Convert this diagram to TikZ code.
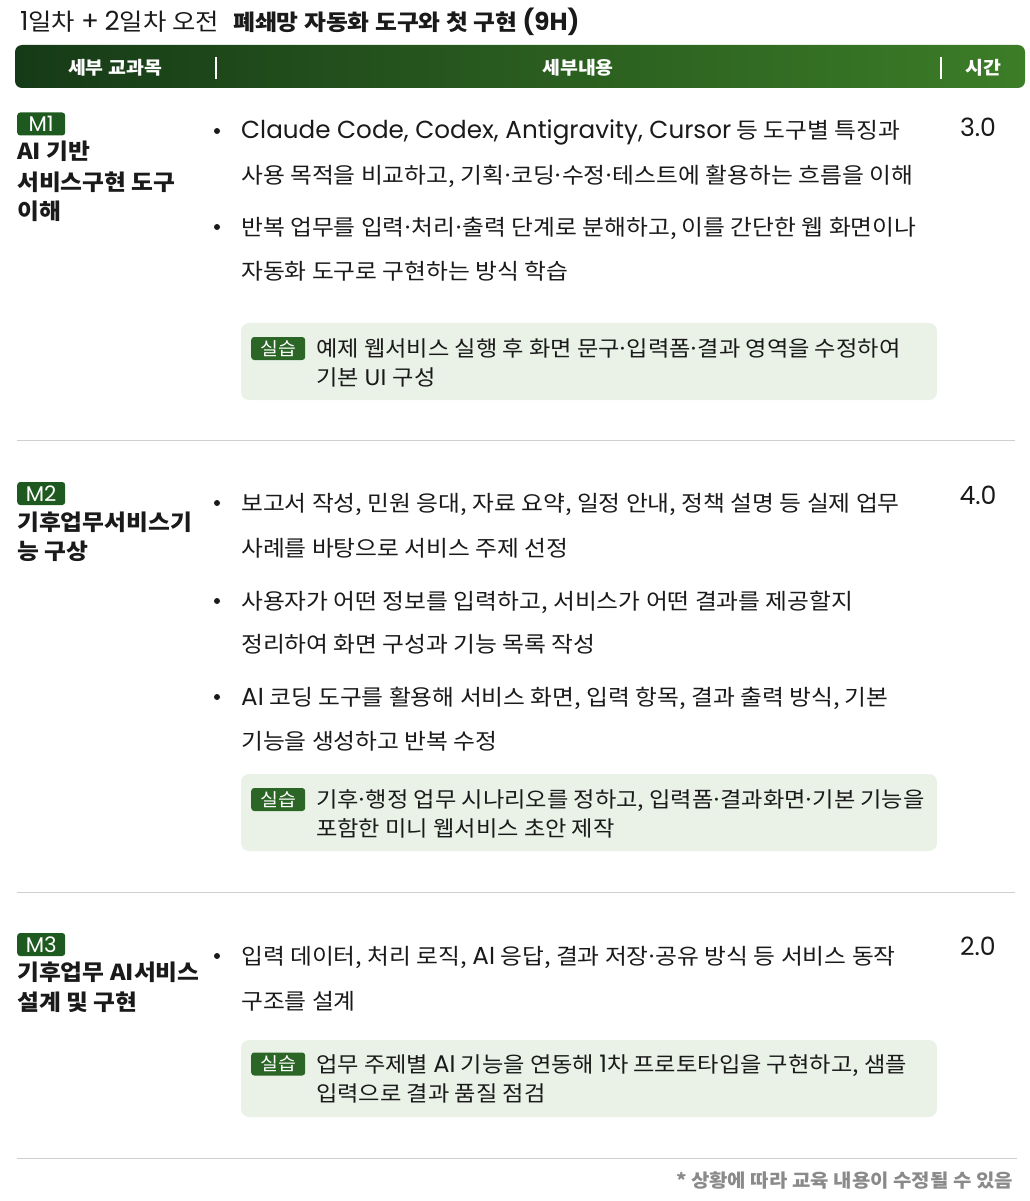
\documentclass[tikz,border=0pt]{standalone}
\usepackage{fontspec}
\setmainfont{Noto Sans CJK KR}[FakeStretch=1.08]
\newfontfamily\lat{Poppins}[Scale=1.12]
\newcommand\mdot{\hbox to 0.32em{\hss·\hss}}
\definecolor{txt}{HTML}{1A1A1A}
\definecolor{hdL}{HTML}{163A17}
\definecolor{hdR}{HTML}{3C7D27}
\definecolor{mbadge}{HTML}{1E5A1F}
\definecolor{pbadge}{HTML}{2B6626}
\definecolor{pbox}{HTML}{EAF2E8}
\definecolor{divc}{HTML}{CFCFCF}
\definecolor{notec}{HTML}{8A8A8A}
\tikzset{
  bodyline/.style={anchor=base west, inner sep=0, text=txt, font=\fontsize{22}{22}\selectfont},
  pracline/.style={anchor=base west, inner sep=0, text=txt, font=\fontsize{21.5}{21.5}\selectfont},
  modtitle/.style={anchor=base west, inner sep=0, text=txt, font=\fontsize{22}{22}\selectfont\bfseries},
  timetext/.style={anchor=base, inner sep=0, text=txt, font=\fontsize{22.5}{22.5}\selectfont\lat},
  hdtext/.style={anchor=center, inner sep=0, text=white, font=\fontsize{18}{18}\selectfont\bfseries},
  mbadgebox/.style={fill=mbadge, rounded corners=3pt, minimum width=48pt, minimum height=23pt, inner sep=0, text=white, font=\fontsize{19}{19}\selectfont\lat, anchor=west},
  pbadgebox/.style={fill=pbadge, rounded corners=3pt, minimum width=54pt, minimum height=23pt, inner sep=0, text=white, font=\fontsize{18}{18}\selectfont, anchor=west},
  practicebox/.style={fill=pbox, rounded corners=8pt, draw=none},
  bulletdot/.style={circle, fill=txt, inner sep=0, minimum size=6pt},
  divider/.style={draw=divc, line width=1pt},
  hdsep/.style={draw=white, line width=1.6pt}
}
\begin{document}
\begin{tikzpicture}[x=1pt,y=-1pt]
\useasboundingbox (0,0) rectangle (1029,1201);
% title
\node[anchor=base west, inner sep=0, text=txt, font=\fontsize{23.5}{23.5}\selectfont] (ttl1) at (20,31) {{\lat 1}일차 {\lat +} {\lat 2}일차 오전};
\node[anchor=base west, inner sep=0, text=txt, font=\fontsize{22}{22}\selectfont\bfseries] (ttl2) at (233,31) {폐쇄망 자동화 도구와 첫 구현 {\lat(9H)}};
% header bar
\shade[left color=hdL, right color=hdR, rounded corners=7pt] (15,45) rectangle (1025,88);
\node[hdtext] (h1) at (115,67.5) {세부 교과목};
\node[hdtext] (h2) at (578,67.5) {세부내용};
\node[hdtext] (h3) at (983,67.5) {시간};
\coordinate (s1a) at (216,57); \coordinate (s1b) at (216,79);
\coordinate (s2a) at (941,57); \coordinate (s2b) at (941,79);
\draw[hdsep] (s1a) -- (s1b);
\draw[hdsep] (s2a) -- (s2b);

% ===== M1 =====
\node[mbadgebox] (m1) at (17,124) {M1};
\node[modtitle] (m1t1) at (17,160) {AI 기반};
\node[modtitle] (m1t2) at (17,190) {서비스구현 도구};
\node[modtitle] (m1t3) at (17,219) {이해};
\node[bulletdot] (b11) at (217,131) {};
\node[bodyline] (l11) at (241,139) {{\lat Claude Code, Codex, Antigravity, Cursor} 등 도구별 특징과};
\node[bodyline] (l12) at (241,184) {사용 목적을 비교하고, 기획\mdot 코딩\mdot 수정\mdot 테스트에 활용하는 흐름을 이해};
\node[bulletdot] (b12) at (217,227) {};
\node[bodyline] (l13) at (241,235) {반복 업무를 입력\mdot 처리\mdot 출력 단계로 분해하고, 이를 간단한 웹 화면이나};
\node[bodyline] (l14) at (241,279) {자동화 도구로 구현하는 방식 학습};
\node[timetext] (t1) at (978,137) {3.0};
\fill[practicebox] (241,323) rectangle (937,400);
\node[pbadgebox] (p1) at (251,348.5) {실습};
\node[pracline] (p11) at (316,356) {예제 웹서비스 실행 후 화면 문구\mdot 입력폼\mdot 결과 영역을 수정하여};
\node[pracline] (p12) at (316,385) {기본 UI 구성};
\coordinate (d1a) at (17,440); \coordinate (d1b) at (1015,440);
\draw[divider] (d1a) -- (d1b);

% ===== M2 =====
\node[mbadgebox] (m2) at (17,493.5) {M2};
\node[modtitle] (m2t1) at (17,530) {기후업무서비스기};
\node[modtitle] (m2t2) at (17,559) {능 구상};
\node[bulletdot] (b21) at (217,503) {};
\node[bodyline] (l21) at (241,511) {보고서 작성, 민원 응대, 자료 요약, 일정 안내, 정책 설명 등 실제 업무};
\node[bodyline] (l22) at (241,556) {사례를 바탕으로 서비스 주제 선정};
\node[bulletdot] (b22) at (217,601) {};
\node[bodyline] (l23) at (241,609) {사용자가 어떤 정보를 입력하고, 서비스가 어떤 결과를 제공할지};
\node[bodyline] (l24) at (241,652) {정리하여 화면 구성과 기능 목록 작성};
\node[bulletdot] (b23) at (217,697) {};
\node[bodyline] (l25) at (241,705) {{\lat AI} 코딩 도구를 활용해 서비스 화면, 입력 항목, 결과 출력 방식, 기본};
\node[bodyline] (l26) at (241,749) {기능을 생성하고 반복 수정};
\node[timetext] (t2) at (978,504) {4.0};
\fill[practicebox] (241,774) rectangle (937,851);
\node[pbadgebox] (p2) at (251,799.5) {실습};
\node[pracline] (p21) at (316,807) {기후\mdot 행정 업무 시나리오를 정하고, 입력폼\mdot 결과화면\mdot 기본 기능을};
\node[pracline] (p22) at (316,836) {포함한 미니 웹서비스 초안 제작};
\coordinate (d2a) at (17,892); \coordinate (d2b) at (1015,892);
\draw[divider] (d2a) -- (d2b);

% ===== M3 =====
\node[mbadgebox] (m3) at (17,944.5) {M3};
\node[modtitle] (m3t1) at (17,980) {기후업무 AI서비스};
\node[modtitle] (m3t2) at (17,1010) {설계 및 구현};
\node[bulletdot] (b31) at (217,956) {};
\node[bodyline] (l31) at (241,964) {입력 데이터, 처리 로직, {\lat AI} 응답, 결과 저장\mdot 공유 방식 등 서비스 동작};
\node[bodyline] (l32) at (241,1009) {구조를 설계};
\node[timetext] (t3) at (978,955) {2.0};
\fill[practicebox] (241,1040) rectangle (937,1117);
\node[pbadgebox] (p3) at (251,1064) {실습};
\node[pracline] (p31) at (316,1072) {업무 주제별 {\lat AI} 기능을 연동해 {\lat 1}차 프로토타입을 구현하고, 샘플};
\node[pracline] (p32) at (316,1101) {입력으로 결과 품질 점검};
\coordinate (d3a) at (17,1158); \coordinate (d3b) at (1017,1158);
\draw[divider] (d3a) -- (d3b);

% footnote
\node[anchor=base east, inner sep=0, text=notec, font=\fontsize{18.5}{18.5}\selectfont\bfseries] (note) at (1013,1187) {* 상황에 따라 교육 내용이 수정될 수 있음};
\end{tikzpicture}
\end{document}
